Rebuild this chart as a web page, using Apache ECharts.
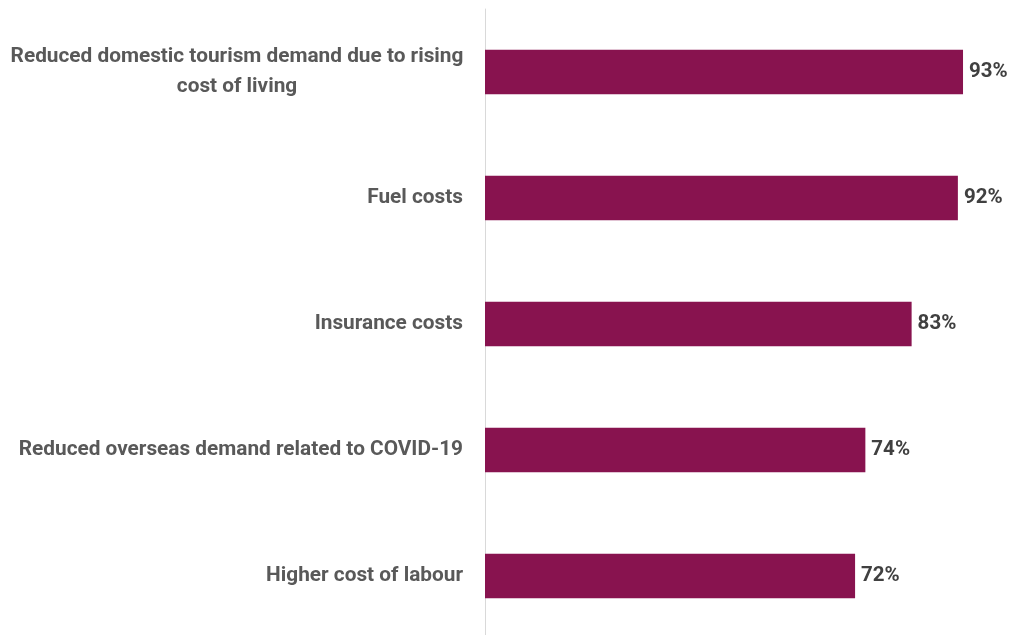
<!DOCTYPE html>
<html>
<head>
<meta charset="utf-8">
<script src="https://cdn.jsdelivr.net/npm/echarts@6/dist/echarts.min.js"></script>
<style>
  html, body { margin: 0; padding: 0; background: #ffffff; }
  #chart { width: 1009px; height: 635px; }
</style>
</head>
<body>
<div id="chart"></div>
<script>
// Cost pressures, share of respondents (%), listed top to bottom
const categories = [
  'Reduced domestic tourism demand due to rising\ncost of living',
  'Fuel costs',
  'Insurance costs',
  'Reduced overseas demand related to COVID-19',
  'Higher cost of labour'
];
const shares = [93, 92, 83, 74, 72];

const chart = echarts.init(document.getElementById('chart'));

// Multi-line labels are centred line by line inside a right-anchored block
function formatCategory(value) {
  if (value.indexOf('\n') < 0) return value;
  return value.split('\n').map(function (line) { return '{c|' + line + '}'; }).join('\n');
}

chart.setOption({
  animation: false,
  backgroundColor: '#ffffff',
  grid: {
    left: 485, width: 514, top: 9, height: 630,
    containLabel: false,
    outerBoundsMode: 'none'
  },
  xAxis: {
    type: 'value',
    min: 0,
    max: 100,
    show: false
  },
  yAxis: {
    type: 'category',
    inverse: true,
    data: categories,
    axisLine: { show: true, lineStyle: { color: '#d9d9d9', width: 1 } },
    axisTick: { show: false },
    splitLine: { show: false },
    axisLabel: {
      margin: 22,
      color: '#595959',
      fontFamily: 'Roboto',
      fontWeight: 'bold',
      fontSize: 20.8,
      lineHeight: 30,
      formatter: formatCategory,
      rich: {
        c: {
          width: 452,
          align: 'center',
          color: '#595959',
          fontFamily: 'Roboto',
          fontWeight: 'bold',
          fontSize: 20.8,
          lineHeight: 30
        }
      }
    }
  },
  series: [{
    type: 'bar',
    data: shares,
    barWidth: 44.5,
    itemStyle: { color: '#88134f' },
    label: {
      show: true,
      position: 'right',
      distance: 6,
      formatter: '{c}%',
      color: '#404040',
      fontFamily: 'Roboto',
      fontWeight: 'bold',
      fontSize: 20.5
    }
  }]
});
</script>
</body>
</html>
